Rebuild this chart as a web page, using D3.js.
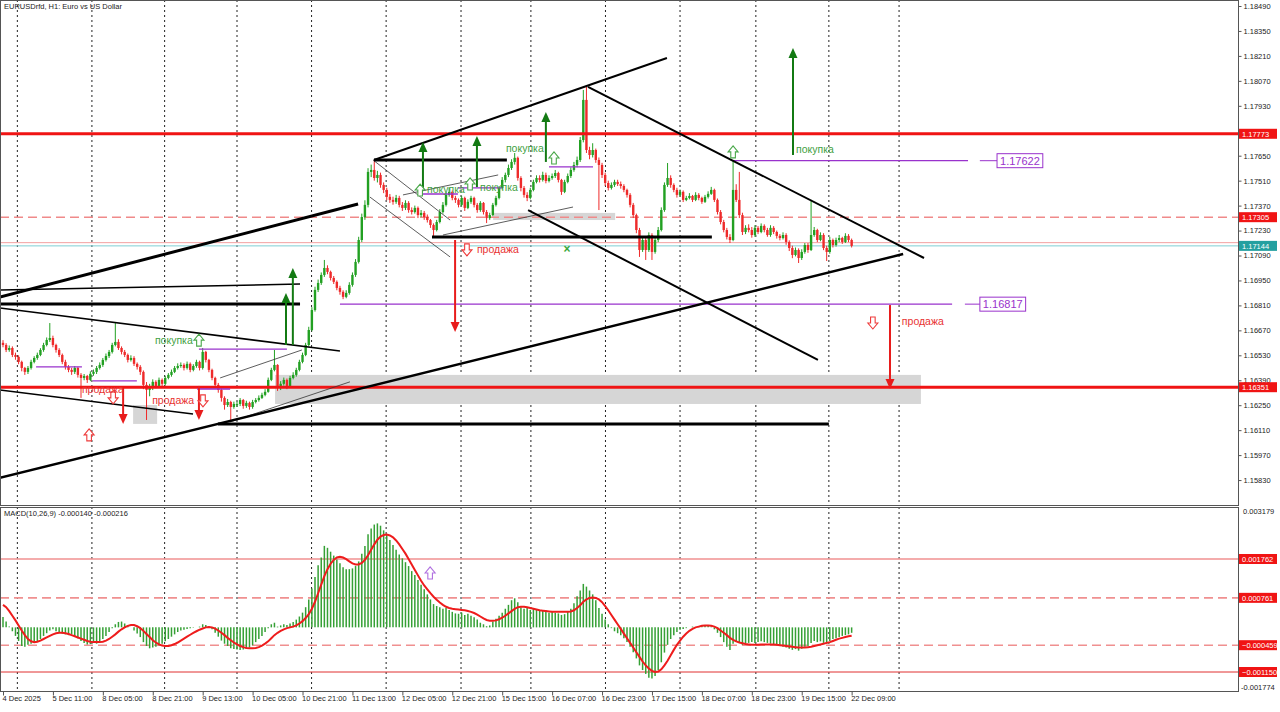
<!DOCTYPE html>
<html><head><meta charset="utf-8">
<script src="https://cdn.jsdelivr.net/npm/d3@7/dist/d3.min.js"></script>
<style>
html,body{margin:0;padding:0;background:#fff;}
svg{display:block;}
</style></head><body>
<svg id="chart" width="1280" height="712"></svg>
<script>
// ---------- DATA ----------
const firstOpen = 1.16600;
const closes = [
1.16588,1.16560,1.16571,1.16532,1.16521,1.16493,1.16459,1.16437,1.16459,1.16493,
1.16515,1.16532,1.16560,1.16588,1.16616,1.16627,1.16588,1.16560,1.16532,1.16493,
1.16465,1.16448,1.16437,1.16459,1.16420,1.16403,1.16414,1.16392,1.16426,1.16437,
1.16459,1.16476,1.16504,1.16526,1.16549,1.16588,1.16605,1.16571,1.16549,1.16532,
1.16504,1.16515,1.16482,1.16465,1.16437,1.16364,1.16336,1.16347,1.16381,1.16358,
1.16392,1.16370,1.16403,1.16420,1.16437,1.16459,1.16470,1.16476,1.16459,1.16482,
1.16448,1.16470,1.16493,1.16459,1.16549,1.16504,1.16448,1.16403,1.16364,1.16336,
1.16291,1.16251,1.16268,1.16240,1.16257,1.16257,1.16279,1.16246,1.16263,1.16240,
1.16268,1.16279,1.16291,1.16308,1.16325,1.16392,1.16448,1.16476,1.16347,1.16370,
1.16392,1.16358,1.16403,1.16420,1.16448,1.16493,1.16532,1.16588,1.16672,1.16784,
1.16897,1.16936,1.16981,1.17020,1.16998,1.16964,1.16942,1.16908,1.16886,1.16858,
1.16880,1.16925,1.16981,1.17054,1.17177,1.17306,1.17374,1.17559,1.17570,1.17525,
1.17542,1.17486,1.17458,1.17419,1.17402,1.17391,1.17413,1.17374,1.17357,1.17385,
1.17345,1.17334,1.17357,1.17317,1.17329,1.17306,1.17289,1.17261,1.17233,1.17278,
1.17334,1.17374,1.17430,1.17447,1.17413,1.17402,1.17374,1.17413,1.17357,1.17391,
1.17413,1.17374,1.17345,1.17385,1.17334,1.17300,1.17317,1.17374,1.17413,1.17469,
1.17514,1.17542,1.17581,1.17615,1.17638,1.17525,1.17469,1.17430,1.17413,1.17458,
1.17503,1.17525,1.17514,1.17542,1.17508,1.17525,1.17536,1.17553,1.17514,1.17447,
1.17503,1.17536,1.17570,1.17598,1.17626,1.17738,1.17963,1.17682,1.17654,1.17682,
1.17626,1.17598,1.17542,1.17497,1.17469,1.17486,1.17503,1.17491,1.17480,1.17458,
1.17430,1.17374,1.17317,1.17233,1.17121,1.17177,1.17121,1.17205,1.17110,1.17177,
1.17233,1.17345,1.17486,1.17525,1.17486,1.17458,1.17430,1.17447,1.17402,1.17413,
1.17424,1.17402,1.17430,1.17413,1.17391,1.17419,1.17436,1.17458,1.17402,1.17334,
1.17278,1.17233,1.17194,1.17177,1.17458,1.17402,1.17317,1.17222,1.17245,1.17233,
1.17205,1.17245,1.17222,1.17256,1.17233,1.17205,1.17245,1.17222,1.17200,1.17188,
1.17205,1.17166,1.17132,1.17093,1.17121,1.17076,1.17110,1.17149,1.17121,1.17205,
1.17233,1.17177,1.17205,1.17132,1.17110,1.17177,1.17149,1.17177,1.17188,1.17166,
1.17200,1.17177,1.17144];
const highs = [
1.16615,1.16598,1.16585,1.16580,1.16545,1.16530,1.16500,1.16465,1.16470,1.16505,
1.16525,1.16545,1.16570,1.16600,1.16630,1.16711,1.16640,1.16595,1.16570,1.16540,
1.16505,1.16475,1.16460,1.16470,1.16465,1.16430,1.16425,1.16420,1.16440,1.16450,
1.16470,1.16490,1.16515,1.16540,1.16560,1.16600,1.16711,1.16620,1.16580,1.16560,
1.16540,1.16530,1.16525,1.16490,1.16475,1.16445,1.16380,1.16370,1.16395,1.16390,
1.16405,1.16400,1.16415,1.16430,1.16450,1.16470,1.16485,1.16490,1.16485,1.16495,
1.16490,1.16480,1.16505,1.16500,1.16571,1.16555,1.16510,1.16455,1.16410,1.16375,
1.16345,1.16300,1.16285,1.16275,1.16270,1.16270,1.16290,1.16285,1.16275,1.16270,
1.16280,1.16290,1.16305,1.16320,1.16340,1.16405,1.16460,1.16560,1.16480,1.16385,
1.16405,1.16400,1.16415,1.16435,1.16460,1.16505,1.16545,1.16600,1.16690,1.16800,
1.16915,1.16955,1.16995,1.17065,1.17035,1.17005,1.16975,1.16950,1.16920,1.16895,
1.16895,1.16940,1.16995,1.17070,1.17195,1.17325,1.17400,1.17580,1.17600,1.17626,
1.17565,1.17555,1.17500,1.17470,1.17435,1.17420,1.17430,1.17425,1.17390,1.17400,
1.17395,1.17360,1.17370,1.17365,1.17345,1.17340,1.17320,1.17295,1.17270,1.17290,
1.17350,1.17390,1.17445,1.17470,1.17455,1.17425,1.17410,1.17425,1.17420,1.17405,
1.17425,1.17420,1.17385,1.17395,1.17390,1.17345,1.17330,1.17385,1.17425,1.17480,
1.17530,1.17555,1.17600,1.17630,1.17665,1.17645,1.17535,1.17480,1.17445,1.17470,
1.17515,1.17540,1.17540,1.17560,1.17555,1.17540,1.17550,1.17570,1.17560,1.17520,
1.17515,1.17550,1.17585,1.17615,1.17645,1.17755,1.18019,1.18036,1.17700,1.17720,
1.17690,1.17640,1.17610,1.17555,1.17510,1.17500,1.17515,1.17515,1.17505,1.17490,
1.17465,1.17440,1.17385,1.17325,1.17245,1.17195,1.17190,1.17220,1.17215,1.17195,
1.17250,1.17360,1.17500,1.17609,1.17540,1.17495,1.17470,1.17460,1.17455,1.17425,
1.17440,1.17430,1.17445,1.17440,1.17420,1.17430,1.17450,1.17475,1.17465,1.17410,
1.17345,1.17290,1.17245,1.17210,1.17626,1.17490,1.17559,1.17330,1.17260,1.17265,
1.17250,1.17260,1.17255,1.17270,1.17265,1.17245,1.17260,1.17255,1.17230,1.17210,
1.17220,1.17215,1.17175,1.17145,1.17135,1.17130,1.17125,1.17160,1.17160,1.17402,
1.17250,1.17240,1.17220,1.17215,1.17145,1.17195,1.17185,1.17190,1.17205,1.17195,
1.17215,1.17210,1.17185];
const lows = [
1.16575,1.16548,1.16550,1.16520,1.16505,1.16480,1.16440,1.16420,1.16425,1.16450,
1.16485,1.16505,1.16525,1.16550,1.16580,1.16605,1.16575,1.16545,1.16520,1.16480,
1.16450,1.16435,1.16420,1.16425,1.16405,1.16291,1.16390,1.16375,1.16385,1.16415,
1.16425,1.16450,1.16465,1.16495,1.16515,1.16540,1.16580,1.16560,1.16535,1.16520,
1.16490,1.16495,1.16470,1.16450,1.16420,1.16340,1.16167,1.16300,1.16335,1.16345,
1.16350,1.16355,1.16360,1.16395,1.16410,1.16430,1.16450,1.16460,1.16445,1.16450,
1.16435,1.16440,1.16460,1.16445,1.16450,1.16490,1.16435,1.16390,1.16350,1.16320,
1.16270,1.16225,1.16240,1.16167,1.16230,1.16240,1.16245,1.16230,1.16235,1.16225,
1.16230,1.16260,1.16270,1.16285,1.16300,1.16320,1.16385,1.16440,1.16330,1.16335,
1.16360,1.16340,1.16350,1.16395,1.16410,1.16440,1.16485,1.16525,1.16580,1.16665,
1.16775,1.16885,1.16925,1.16970,1.16985,1.16950,1.16930,1.16895,1.16870,1.16845,
1.16850,1.16870,1.16915,1.16970,1.17045,1.17165,1.17290,1.17360,1.17530,1.17510,
1.17500,1.17470,1.17440,1.17400,1.17385,1.17375,1.17380,1.17360,1.17340,1.17345,
1.17330,1.17320,1.17325,1.17300,1.17305,1.17290,1.17275,1.17245,1.17199,1.17225,
1.17270,1.17325,1.17365,1.17420,1.17400,1.17385,1.17360,1.17365,1.17340,1.17350,
1.17380,1.17360,1.17330,1.17335,1.17320,1.17272,1.17290,1.17310,1.17365,1.17405,
1.17460,1.17500,1.17530,1.17570,1.17600,1.17510,1.17450,1.17415,1.17395,1.17405,
1.17450,1.17495,1.17500,1.17505,1.17495,1.17500,1.17515,1.17525,1.17500,1.17430,
1.17440,1.17495,1.17525,1.17560,1.17585,1.17615,1.17725,1.17665,1.17630,1.17640,
1.17610,1.17345,1.17525,1.17480,1.17455,1.17460,1.17475,1.17480,1.17465,1.17445,
1.17415,1.17360,1.17300,1.17215,1.17082,1.17110,1.17065,1.17110,1.17065,1.17100,
1.17165,1.17225,1.17335,1.17475,1.17470,1.17445,1.17415,1.17420,1.17390,1.17395,
1.17405,1.17390,1.17395,1.17400,1.17380,1.17385,1.17410,1.17430,1.17390,1.17320,
1.17265,1.17220,1.17180,1.17160,1.17170,1.17390,1.17300,1.17205,1.17210,1.17220,
1.17190,1.17195,1.17210,1.17215,1.17220,1.17195,1.17195,1.17210,1.17185,1.17175,
1.17180,1.17150,1.17115,1.17075,1.17085,1.17048,1.17065,1.17100,1.17105,1.17115,
1.17195,1.17165,1.17170,1.17120,1.17059,1.17100,1.17135,1.17140,1.17165,1.17155,
1.17160,1.17165,1.17135];
const macdMain = [
0.00027,0.00015,0.00002,-0.00010,-0.00022,-0.00035,-0.00048,-0.00050,-0.00045,-0.00042,
-0.00040,-0.00036,-0.00030,-0.00022,-0.00015,-0.00008,-0.00005,-0.00010,-0.00014,-0.00016,
-0.00018,-0.00020,-0.00017,-0.00022,-0.00028,-0.00035,-0.00040,-0.00044,-0.00043,-0.00040,
-0.00042,-0.00038,-0.00030,-0.00022,-0.00012,-0.00002,0.00008,0.00014,0.00015,0.00010,
0.00005,0.00000,-0.00008,-0.00016,-0.00025,-0.00038,-0.00048,-0.00054,-0.00052,-0.00050,
-0.00046,-0.00042,-0.00036,-0.00030,-0.00024,-0.00018,-0.00012,-0.00008,-0.00006,-0.00004,
-0.00002,-0.00001,0.00000,0.00002,0.00008,0.00006,0.00002,-0.00005,-0.00014,-0.00024,
-0.00034,-0.00042,-0.00048,-0.00054,-0.00056,-0.00057,-0.00058,-0.00057,-0.00055,-0.00052,
-0.00046,-0.00038,-0.00030,-0.00022,-0.00012,-0.00002,0.00008,0.00012,0.00002,0.00005,
0.00008,0.00006,0.00010,0.00014,0.00020,0.00028,0.00038,0.00052,0.00072,0.00100,
0.00130,0.00160,0.00180,0.00210,0.00205,0.00195,0.00185,0.00175,0.00165,0.00155,
0.00150,0.00150,0.00152,0.00158,0.00170,0.00190,0.00210,0.00240,0.00255,0.00265,
0.00268,0.00262,0.00250,0.00238,0.00225,0.00212,0.00200,0.00188,0.00178,0.00168,
0.00158,0.00145,0.00135,0.00122,0.00110,0.00098,0.00085,0.00072,0.00060,0.00055,
0.00052,0.00048,0.00050,0.00045,0.00040,0.00036,0.00035,0.00038,0.00032,0.00035,
0.00030,0.00026,0.00020,0.00012,0.00008,0.00003,0.00005,0.00015,0.00022,0.00030,
0.00038,0.00048,0.00058,0.00070,0.00075,0.00065,0.00052,0.00048,0.00050,0.00045,
0.00048,0.00046,0.00044,0.00042,0.00040,0.00038,0.00040,0.00038,0.00036,0.00032,
0.00034,0.00040,0.00048,0.00062,0.00080,0.00095,0.00112,0.00105,0.00095,0.00085,
0.00070,0.00050,0.00035,0.00020,0.00008,-0.00002,-0.00010,-0.00015,-0.00020,-0.00028,
-0.00038,-0.00050,-0.00064,-0.00080,-0.00098,-0.00110,-0.00120,-0.00130,-0.00132,-0.00125,
-0.00110,-0.00090,-0.00065,-0.00045,-0.00030,-0.00020,-0.00012,-0.00006,-0.00004,-0.00002,
0.00000,0.00002,0.00000,0.00003,0.00005,0.00006,0.00005,0.00002,-0.00005,-0.00014,
-0.00025,-0.00038,-0.00050,-0.00058,-0.00042,-0.00035,-0.00038,-0.00045,-0.00042,-0.00040,
-0.00038,-0.00040,-0.00038,-0.00036,-0.00038,-0.00040,-0.00042,-0.00044,-0.00046,-0.00048,
-0.00050,-0.00052,-0.00055,-0.00058,-0.00056,-0.00060,-0.00055,-0.00050,-0.00048,-0.00040,
-0.00035,-0.00038,-0.00036,-0.00040,-0.00042,-0.00035,-0.00030,-0.00028,-0.00025,-0.00022,
-0.00020,-0.00018,-0.00014];
const macdSignal = [
0.00058,0.00052,0.00042,0.00030,0.00018,0.00005,-0.00008,-0.00020,-0.00030,-0.00036,
-0.00038,-0.00037,-0.00034,-0.00030,-0.00026,-0.00022,-0.00018,-0.00015,-0.00014,-0.00014,
-0.00015,-0.00017,-0.00020,-0.00023,-0.00026,-0.00029,-0.00032,-0.00035,-0.00037,-0.00038,
-0.00038,-0.00038,-0.00037,-0.00034,-0.00030,-0.00024,-0.00018,-0.00011,-0.00005,0.00000,
0.00004,0.00006,0.00006,0.00003,-0.00002,-0.00009,-0.00017,-0.00025,-0.00033,-0.00039,
-0.00044,-0.00047,-0.00048,-0.00048,-0.00046,-0.00043,-0.00039,-0.00034,-0.00029,-0.00024,
-0.00019,-0.00014,-0.00010,-0.00006,-0.00003,0.00000,0.00001,0.00000,-0.00003,-0.00008,
-0.00014,-0.00020,-0.00027,-0.00033,-0.00039,-0.00044,-0.00048,-0.00051,-0.00053,-0.00054,
-0.00054,-0.00053,-0.00051,-0.00047,-0.00042,-0.00036,-0.00028,-0.00020,-0.00014,-0.00009,
-0.00005,-0.00002,0.00000,0.00002,0.00005,0.00010,0.00016,0.00024,0.00034,0.00048,
0.00066,0.00088,0.00110,0.00132,0.00150,0.00164,0.00174,0.00180,0.00182,0.00180,
0.00176,0.00170,0.00165,0.00162,0.00162,0.00166,0.00174,0.00186,0.00200,0.00214,
0.00226,0.00234,0.00238,0.00239,0.00237,0.00232,0.00224,0.00214,0.00202,0.00190,
0.00176,0.00162,0.00148,0.00134,0.00120,0.00108,0.00098,0.00088,0.00079,0.00071,
0.00064,0.00058,0.00053,0.00050,0.00048,0.00047,0.00046,0.00045,0.00044,0.00042,
0.00040,0.00037,0.00033,0.00028,0.00023,0.00019,0.00017,0.00017,0.00018,0.00021,
0.00025,0.00030,0.00036,0.00042,0.00048,0.00052,0.00053,0.00053,0.00052,0.00050,
0.00048,0.00046,0.00044,0.00043,0.00042,0.00041,0.00040,0.00040,0.00040,0.00040,
0.00040,0.00040,0.00041,0.00044,0.00050,0.00057,0.00066,0.00072,0.00076,0.00077,
0.00076,0.00072,0.00065,0.00055,0.00044,0.00032,0.00020,0.00008,-0.00004,-0.00016,
-0.00028,-0.00040,-0.00052,-0.00064,-0.00076,-0.00088,-0.00098,-0.00106,-0.00112,-0.00115,
-0.00114,-0.00108,-0.00098,-0.00086,-0.00072,-0.00058,-0.00045,-0.00034,-0.00024,-0.00016,
-0.00009,-0.00004,0.00000,0.00002,0.00004,0.00005,0.00005,0.00004,0.00002,-0.00002,
-0.00008,-0.00014,-0.00020,-0.00027,-0.00032,-0.00036,-0.00039,-0.00041,-0.00043,-0.00044,
-0.00045,-0.00045,-0.00045,-0.00044,-0.00044,-0.00044,-0.00044,-0.00044,-0.00045,-0.00046,
-0.00047,-0.00048,-0.00049,-0.00050,-0.00051,-0.00052,-0.00052,-0.00052,-0.00051,-0.00050,
-0.00048,-0.00046,-0.00044,-0.00042,-0.00040,-0.00038,-0.00035,-0.00032,-0.00029,-0.00027,
-0.00025,-0.00023,-0.0002160];

const priceTicks = [1.18490,1.18350,1.18210,1.18070,1.17930,1.17790,1.17650,1.17510,1.17370,1.17230,
  1.17090,1.16950,1.16810,1.16670,1.16530,1.16390,1.16250,1.16110,1.15970,1.15830];
const timeLabels = ["4 Dec 2025","5 Dec 11:00","8 Dec 05:00","8 Dec 21:00","9 Dec 13:00","10 Dec 05:00",
  "10 Dec 21:00","11 Dec 13:00","12 Dec 05:00","12 Dec 21:00","15 Dec 15:00","16 Dec 07:00","16 Dec 23:00",
  "17 Dec 15:00","18 Dec 07:00","18 Dec 23:00","19 Dec 15:00","22 Dec 09:00"];
const timeLabelBars = [0,16,32,48,64,80,96,112,128,144,160,176,192,208,224,240,256,272];
const gridBars = [4.6,28.5,51.8,75,98.9,122.8,146.8,169.2,193.1,217,241.3,264.7,287.2];

// levels with axis labels
const redSolidLevels = [1.17773, 1.16351];
const dashedLevel = 1.17305;
const bidPrice = 1.17144;
const askPrice = 1.17162;
const macdLevels = [0.001762, 0.000761, -0.000459, -0.001150];
const macdTop = "0.003179", macdBottom = "-0.001774";

// drawn objects, anchored in (bar, price)
const trendLines = [ // b1,p1,b2,p2,width
 [-1,1.16857,113.8,1.17379,3],
 [-1,1.16897,95.2,1.16930,1.5],
 [-1,1.16818,95.2,1.16818,3],
 [-1,1.16796,108,1.16554,1.5],
 [-1,1.16336,60.9,1.16201,1.5],
 [-1,1.15842,288.5,1.17098,2.5],
 [68.9,1.16145,264.7,1.16145,3],
 [118.9,1.17626,161.5,1.17626,3],
 [118.9,1.17626,212.8,1.18198,2],
 [137.5,1.17194,227.2,1.17194,3],
 [187.5,1.18036,295.2,1.17076,2],
 [168.3,1.17345,261.2,1.16504,2]
];
const thinLines = [
 [69.6,1.16403,95.8,1.16560],
 [72.8,1.16156,111.2,1.16381],
 [118.6,1.17626,143.3,1.17289],
 [117.6,1.17418,143.3,1.17082],
 [128.2,1.17430,158.7,1.17542],
 [141,1.17205,182.7,1.17362]
];
const grayBoxes = [ // b1,pTop,b2,pBottom
 [87.2,1.16420,294.2,1.16257],
 [41.7,1.16251,49.4,1.16145],
 [157.1,1.17329,196.2,1.17289]
];
const purpleSegs = [ // b1,b2,price
 [10.6,25.3,1.16465],[28.8,42.9,1.16386],[62.8,91,1.16565],[62.2,72.8,1.16341],
 [134.3,145.8,1.17435],[145.8,159.9,1.17469],[175,189.1,1.17587],
 [108,304.2,1.16817],[234,309.3,1.17622]
];
const purpleTags = [ // leaderStartBar, boxBar, price, text
 [313.1,318.6,1.17622,"1.17622"],
 [308.3,313.1,1.16817,"1.16817"]
];
const solidArrows = [ // bar, pFrom, pTo, color
 [90.7,1.16588,1.16880,"g"],[92.9,1.16588,1.17020,"g"],
 [134.6,1.17458,1.17727,"g"],[151.9,1.17474,1.17761,"g"],
 [174,1.17615,1.17895,"g"],[253.2,1.17654,1.18254,"g"],
 [144.9,1.17177,1.16661,"r"],[284.3,1.16812,1.16341,"r"],
 [38.5,1.16347,1.16145,"r"],[62.8,1.16358,1.16167,"r"]
];
const hollowArrows = [ // bar, pTop, dir, color
 [62.8,1.16649,"up","g"],[176.6,1.17671,"up","g"],[234,1.17705,"up","g"],
 [133.7,1.17491,"up","g"],[149.7,1.17525,"up","g"],
 [35.3,1.16325,"down","r"],[64.1,1.16308,"down","r"],[148.7,1.17155,"down","r"],
 [278.8,1.16745,"down","r"],[27.6,1.16117,"up","r"]
];
const macdArrow = [136.9, 0.001557];
const signTexts = [ // bar, price, text, color
 [48.7,1.16611,"покупка","g"],[25.3,1.16336,"продажа","r"],[47.8,1.16274,"продажа","r"],
 [135.9,1.17458,"покупка","g"],[152.9,1.17474,"покупка","g"],[161.2,1.17688,"покупка","g"],
 [151.9,1.17121,"продажа","r"],[254.2,1.17682,"покупка","g"],[288.1,1.16717,"продажа","r"]
];
const crossMark = [180.8, 1.17126];

// ---------- SCALES ----------
const svg = d3.select("#chart");
const RIGHT = 1238, P_TOP = 0, P_BOT = 505, M_TOP = 507, M_BOT = 691;
const NB = closes.length;
const x = d3.scaleLinear().domain([0, NB - 1]).range([3, 3 + 3.12 * (NB - 1)]);
const yP = d3.scaleLinear().domain([1.18490, 1.15830]).range([6, 480.05]);
const yM = d3.scaleLinear().domain([0.001762, -0.001150]).range([559, 672]);
const FONT = "'Liberation Sans', Arial, sans-serif";
const C = {g:"#137a13", r:"#e81c1c", tg:"#3f9f3f", tr:"#e83232", bull:"#22a022", bear:"#ee2a2a", purple:"#9932cc"};

svg.append("rect").attr("width",1280).attr("height",712).attr("fill","#fff");
const defs = svg.append("defs");
defs.append("clipPath").attr("id","cp").append("rect").attr("x",0).attr("y",P_TOP).attr("width",RIGHT).attr("height",P_BOT-P_TOP);
defs.append("clipPath").attr("id","cm").append("rect").attr("x",0).attr("y",M_TOP).attr("width",RIGHT).attr("height",M_BOT-M_TOP);

const gP = svg.append("g").attr("clip-path","url(#cp)");
const gM = svg.append("g").attr("clip-path","url(#cm)");

// grid
[[gP,P_TOP,P_BOT],[gM,M_TOP,M_BOT]].forEach(([g,t,b])=>{
  g.selectAll(null).data(gridBars).join("line")
   .attr("x1",d=>x(d)).attr("x2",d=>x(d)).attr("y1",t).attr("y2",b)
   .attr("stroke","#222").attr("stroke-width",1).attr("stroke-dasharray","2,3");
});

// gray boxes
gP.selectAll(null).data(grayBoxes).join("rect")
  .attr("x",d=>x(d[0])).attr("y",d=>yP(d[1])).attr("width",d=>x(d[2])-x(d[0])).attr("height",d=>yP(d[3])-yP(d[1]))
  .attr("fill","#d6d6d6");

// dashed level & bid/ask
gP.append("line").attr("x1",0).attr("x2",RIGHT).attr("y1",yP(dashedLevel)).attr("y2",yP(dashedLevel))
  .attr("stroke","#f08a8a").attr("stroke-width",1.5).attr("stroke-dasharray","9,5");
gP.append("line").attr("x1",0).attr("x2",RIGHT).attr("y1",yP(askPrice)).attr("y2",yP(askPrice))
  .attr("stroke","#f2a0a0").attr("stroke-width",1);
gP.append("line").attr("x1",0).attr("x2",RIGHT).attr("y1",yP(bidPrice)).attr("y2",yP(bidPrice))
  .attr("stroke","#7fcfd4").attr("stroke-width",1);

// candles
const bars = d3.range(NB).map(i=>({i, o: i===0?firstOpen:closes[i-1], c: closes[i], h: highs[i], l: lows[i]}));
gP.selectAll(null).data(bars).join("line")
  .attr("x1",d=>x(d.i)).attr("x2",d=>x(d.i)).attr("y1",d=>yP(d.h)).attr("y2",d=>yP(d.l))
  .attr("stroke",d=>d.c>=d.o?C.bull:C.bear).attr("stroke-width",1);
gP.selectAll(null).data(bars).join("rect")
  .attr("x",d=>x(d.i)-1.2).attr("width",2.4)
  .attr("y",d=>yP(Math.max(d.o,d.c))).attr("height",d=>Math.max(1,Math.abs(yP(d.o)-yP(d.c))))
  .attr("fill",d=>d.c>=d.o?C.bull:C.bear);

// red solid levels
gP.selectAll(null).data(redSolidLevels).join("line")
  .attr("x1",0).attr("x2",RIGHT).attr("y1",d=>yP(d)).attr("y2",d=>yP(d))
  .attr("stroke","#f01414").attr("stroke-width",3);

// purple segments
gP.selectAll(null).data(purpleSegs).join("line")
  .attr("x1",d=>x(d[0])).attr("x2",d=>x(d[1])).attr("y1",d=>yP(d[2])).attr("y2",d=>yP(d[2]))
  .attr("stroke",C.purple).attr("stroke-width",1.3);
purpleTags.forEach(t=>{
  const yy = yP(t[2]);
  gP.append("line").attr("x1",x(t[0])).attr("x2",x(t[1])).attr("y1",yy).attr("y2",yy).attr("stroke",C.purple).attr("stroke-width",1);
  const tx = gP.append("text").attr("x",x(t[1])+3).attr("y",yy+4).attr("font-family",FONT).attr("font-size",11)
    .attr("fill",C.purple).text(t[3]);
  const bb = tx.node().getBBox();
  gP.insert("rect","text").attr("x",x(t[1])).attr("y",yy-7).attr("width",bb.width+6).attr("height",14)
    .attr("fill","#fff").attr("stroke",C.purple).attr("stroke-width",1);
});

// thin lines
gP.selectAll(null).data(thinLines).join("line")
  .attr("x1",d=>x(d[0])).attr("y1",d=>yP(d[1])).attr("x2",d=>x(d[2])).attr("y2",d=>yP(d[3]))
  .attr("stroke","#333").attr("stroke-width",0.8);
// trend lines
gP.selectAll(null).data(trendLines).join("line")
  .attr("x1",d=>x(d[0])).attr("y1",d=>yP(d[1])).attr("x2",d=>x(d[2])).attr("y2",d=>yP(d[3]))
  .attr("stroke","#000").attr("stroke-width",d=>d[4]);

// solid arrows
solidArrows.forEach(a=>{
  const ax = x(a[0]), y1 = yP(a[1]), y2 = yP(a[2]);
  const col = a[3]==="g"?C.g:C.r;
  const up = y2 < y1, s = up?1:-1;
  gP.append("line").attr("x1",ax).attr("x2",ax).attr("y1",y1).attr("y2",y2+s*8).attr("stroke",col).attr("stroke-width",2);
  gP.append("path").attr("d",`M${ax},${y2} L${ax+4.5},${y2+s*10} L${ax-4.5},${y2+s*10} Z`).attr("fill",col);
});
// hollow arrows
function hollowPath(cx, ty, dir){
  if(dir==="up") return `M${cx},${ty} L${cx+5},${ty+6} L${cx+2.3},${ty+6} L${cx+2.3},${ty+12} L${cx-2.3},${ty+12} L${cx-2.3},${ty+6} L${cx-5},${ty+6} Z`;
  return `M${cx-2.3},${ty} L${cx+2.3},${ty} L${cx+2.3},${ty+6} L${cx+5},${ty+6} L${cx},${ty+12} L${cx-5},${ty+6} L${cx-2.3},${ty+6} Z`;
}
hollowArrows.forEach(a=>{
  gP.append("path").attr("d",hollowPath(x(a[0]),yP(a[1]),a[2])).attr("fill","#fff")
    .attr("stroke",a[3]==="g"?"#4aa84a":"#ee3b3b").attr("stroke-width",1.1);
});
// texts
gP.selectAll(null).data(signTexts).join("text")
  .attr("x",d=>x(d[0])).attr("y",d=>yP(d[1])+3.5).attr("font-family",FONT).attr("font-size",10.5)
  .attr("fill",d=>d[3]==="g"?C.tg:C.tr).text(d=>d[2]);
gP.append("text").attr("x",x(crossMark[0])).attr("y",yP(crossMark[1])+4).attr("text-anchor","middle")
  .attr("font-family",FONT).attr("font-size",12).attr("font-weight","bold").attr("fill","#3aa83a").text("×");

// ---------- MACD ----------
const macdLvlStyle = [["#f09090",1.6,null],["#f09090",1.6,"9,5"],["#f09090",1.6,"9,5"],["#e03030",1,null]];
gM.selectAll(null).data(macdLevels).join("line")
  .attr("x1",0).attr("x2",RIGHT).attr("y1",d=>yM(d)).attr("y2",d=>yM(d))
  .attr("stroke",(d,i)=>macdLvlStyle[i][0]).attr("stroke-width",(d,i)=>macdLvlStyle[i][1])
  .attr("stroke-dasharray",(d,i)=>macdLvlStyle[i][2]);
gM.selectAll(null).data(macdMain).join("line")
  .attr("x1",(d,i)=>x(i)).attr("x2",(d,i)=>x(i)).attr("y1",yM(0)).attr("y2",d=>yM(d))
  .attr("stroke","#35a035").attr("stroke-width",1.5);
gM.append("path").datum(macdSignal)
  .attr("d",d3.line().x((d,i)=>x(i)).y(d=>yM(d)))
  .attr("fill","none").attr("stroke","#ee1c1c").attr("stroke-width",2);
gM.append("path").attr("d",hollowPath(x(macdArrow[0]),yM(macdArrow[1]),"up"))
  .attr("fill","#fff").attr("stroke","#b070e0").attr("stroke-width",1.1);

// ---------- FRAMES & AXES ----------
const frame = svg.append("g").attr("fill","none").attr("stroke","#555").attr("stroke-width",1);
frame.append("rect").attr("x",0.5).attr("y",0.5).attr("width",RIGHT).attr("height",P_BOT);
frame.append("rect").attr("x",0.5).attr("y",M_TOP+0.5).attr("width",RIGHT).attr("height",M_BOT-M_TOP);

const ax = svg.append("g").attr("transform",`translate(${RIGHT+0.5},0)`)
  .call(d3.axisRight(yP).tickValues(priceTicks).tickSize(3).tickPadding(2).tickFormat(d3.format(".5f")));
ax.select(".domain").remove();
ax.selectAll("text").attr("font-family",FONT).attr("font-size",7.5).attr("fill","#222");
ax.selectAll("line").attr("stroke","#555");

function tag(y, txt, bg){
  const g = svg.append("g");
  g.append("rect").attr("x",RIGHT+1).attr("y",y-5).attr("width",38).attr("height",10).attr("fill",bg);
  g.append("text").attr("x",RIGHT+4).attr("y",y+3).attr("font-family",FONT).attr("font-size",7.5).attr("fill","#fff").text(txt);
}
const pf = d3.format(".5f"), mf = d3.format(".6f");
redSolidLevels.forEach(p=>tag(yP(p), pf(p), "#f01414"));
tag(yP(dashedLevel), pf(dashedLevel), "#f01414");
tag(yP(bidPrice), pf(bidPrice), "#24a0a0");
macdLevels.forEach(v=>tag(yM(v), mf(v), "#f01414"));

svg.append("text").attr("x",RIGHT+5).attr("y",M_TOP+7).attr("font-family",FONT).attr("font-size",7.5).attr("fill","#222").text(macdTop);
svg.append("text").attr("x",RIGHT+3).attr("y",M_BOT-1).attr("font-family",FONT).attr("font-size",7.5).attr("fill","#222").text(macdBottom);

const bx = svg.append("g").attr("transform",`translate(0,${M_BOT+0.5})`)
  .call(d3.axisBottom(x).tickValues(timeLabelBars).tickSize(4).tickFormat((d,i)=>timeLabels[i]));
bx.select(".domain").remove();
bx.selectAll("text").attr("font-family",FONT).attr("font-size",7.5).attr("fill","#222")
  .attr("text-anchor","start").attr("dx",-1).attr("dy",2);
bx.selectAll("line").attr("stroke","#555");

svg.append("text").attr("x",4).attr("y",9).attr("font-family",FONT).attr("font-size",7.5).attr("fill","#222")
  .text("EURUSDrfd, H1:  Euro vs US Dollar");
svg.append("text").attr("x",4).attr("y",M_TOP+9).attr("font-family",FONT).attr("font-size",7.5).attr("fill","#222")
  .text("MACD(10,26,9) -0.000140 -0.000216");
</script>
</body></html>
